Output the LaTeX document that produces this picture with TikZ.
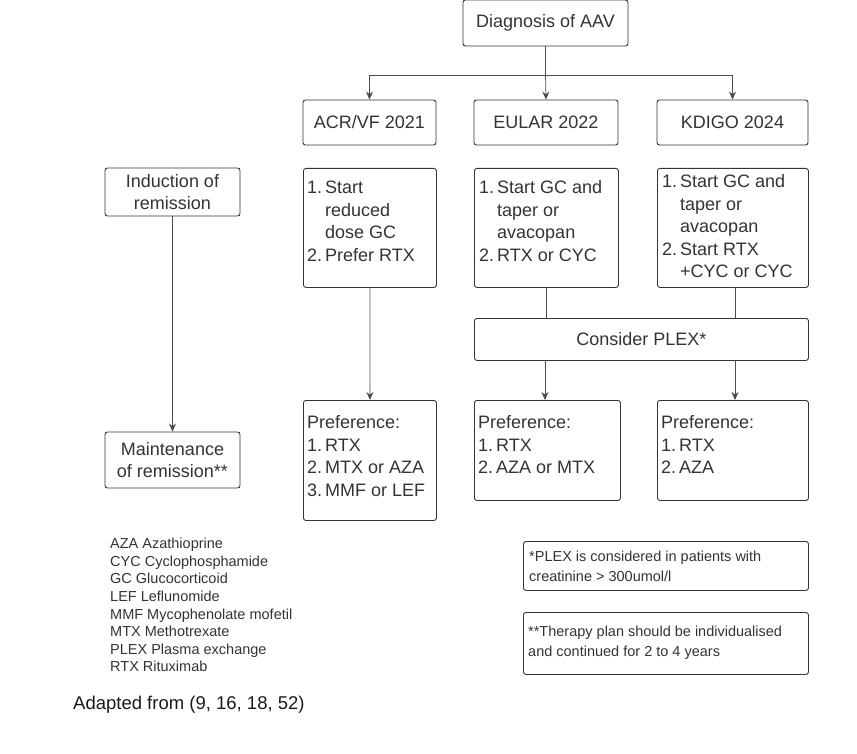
\documentclass[tikz,border=0pt]{standalone}
\usepackage{fontspec}
\setmainfont{Liberation Sans}
\usetikzlibrary{arrows.meta}
\newcommand{\lst}[1]{\begin{tabular}{@{}l@{\,}l@{}}#1\end{tabular}}
\tikzset{
  box/.style={draw=black!80, line width=0.9pt, rounded corners=2.5pt, inner sep=3pt,
    font=\fontsize{18}{22.5}\selectfont, text=black!80},
  txt/.style={anchor=north west, inner sep=0pt, font=\fontsize{18}{22.5}\selectfont, text=black!80},
  arr/.style={draw=black!70, line width=0.7pt, -{Stealth[length=8pt,width=7pt]}},
  ln/.style={draw=black!70, line width=0.7pt},
  small/.style={font=\fontsize{14.5}{17.6}\selectfont, text=black!80, align=left, inner sep=0pt}
}
\begin{document}
\begin{tikzpicture}[x=1pt,y=-1pt]
\useasboundingbox (0,0) rectangle (857,754);
% top
\node[box, minimum width=165, minimum height=46] (diag) at (545.5,23) {Diagnosis of AAV};
\node[box, minimum width=133, minimum height=45] (acr) at (369.5,122.5) {ACR/VF 2021};
\node[box, minimum width=144, minimum height=45] (eul) at (546,122.5) {EULAR 2022};
\node[box, minimum width=151, minimum height=45] (kdi) at (732.5,122.5) {KDIGO 2024};
\coordinate (j) at (545.5,75);
\draw[ln] (diag.south) -- (j);
\draw[arr] (j) -| (acr.north);
\draw[arr] (j) -| (kdi.north);
\draw[arr] (j) -- (eul.north);
% steps
\node[box, minimum width=135, minimum height=48, align=center] (ind) at (172.5,192) {Induction of\\remission};
\node[box, minimum width=133, minimum height=119, anchor=north west] (s1) at (303,168) {};
\node[txt] at (307,178) {\lst{1.&Start\\&reduced\\&dose GC\\2.&Prefer RTX}};
\node[box, minimum width=144, minimum height=119, anchor=north west] (s2) at (474,168) {};
\node[txt] at (479,178) {\lst{1.&Start GC and\\&taper or\\&avacopan\\2.&RTX or CYC}};
\node[box, minimum width=151, minimum height=119, anchor=north west] (s3) at (657,168) {};
\node[txt] at (662,172) {\lst{1.&Start GC and\\&taper or\\&avacopan\\2.&Start RTX\\&+CYC or CYC}};
\node[box, minimum width=334, minimum height=42, anchor=north west] (plex) at (474,318) {};
\node[box, draw=none] at (plex.center) {Consider PLEX*};
\draw[ln] (s2.south) -- (s2.south |- plex.north);
\draw[ln] (735,287) -- (735,318);
% preferences
\node[box, minimum width=133, minimum height=120, anchor=north west] (p1) at (303,400) {};
\node[txt] at (307,413) {\lst{\multicolumn{2}{@{}l@{}}{Preference:}\\1.&RTX\\2.&MTX or AZA\\3.&MMF or LEF}};
\node[box, minimum width=146, minimum height=100, anchor=north west] (p2) at (474,400) {};
\node[txt] at (478,413) {\lst{\multicolumn{2}{@{}l@{}}{Preference:}\\1.&RTX\\2.&AZA or MTX}};
\node[box, minimum width=151, minimum height=100, anchor=north west] (p3) at (657,400) {};
\node[txt] at (661,413) {\lst{\multicolumn{2}{@{}l@{}}{Preference:}\\1.&RTX\\2.&AZA}};
\node[box, minimum width=135, minimum height=56, align=center] (mnt) at (172.5,460) {Maintenance\\of remission**};
\draw[arr] (370,287) -- (p1.north);
\draw[arr] (545,360) -- (545,400);
\draw[arr] (735,360) -- (735,400);
\draw[arr] (ind.south) -- (mnt.north);
% notes
\node[box, minimum width=285, minimum height=49, anchor=north west] (n1) at (523,541) {};
\node[small, anchor=west, font=\fontsize{14.5}{20}\selectfont] at (529,566) {*PLEX is considered in patients with\\creatinine > 300umol/l};
\node[box, minimum width=285, minimum height=62, anchor=north west] (n2) at (523,612) {};
\node[small, anchor=west, font=\fontsize{14.5}{20}\selectfont] at (528,643) {**Therapy plan should be individualised\\and continued for 2 to 4 years};
% legend
\node[small, anchor=north west] (leg) at (110,538) {AZA Azathioprine\\CYC Cyclophosphamide\\GC Glucocorticoid\\LEF Leflunomide\\MMF Mycophenolate mofetil\\MTX Methotrexate\\PLEX Plasma exchange\\RTX Rituximab};
\node[anchor=west, inner sep=0pt, font=\fontsize{18.5}{22}\selectfont, text=black!90] (src) at (73,705) {Adapted from (9, 16, 18, 52)};
\end{tikzpicture}
\end{document}
